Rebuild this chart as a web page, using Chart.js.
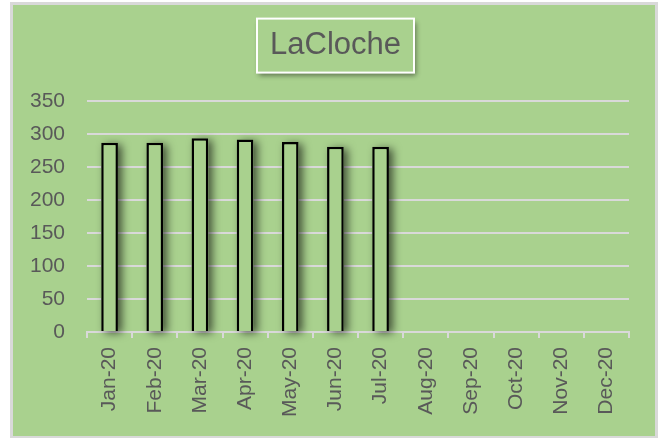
<!DOCTYPE html>
<html>
<head>
<meta charset="utf-8">
<script src="https://cdn.jsdelivr.net/npm/chart.js@4"></script>
<style>
  body { margin: 0; background: #fff; }
  #frame {
    position: absolute; left: 10px; top: 2px; width: 648px; height: 437px;
    box-sizing: border-box; border: 3px solid #d9d9d9; background: #a9d18e;
  }
  #lacloche { position: absolute; left: 0; top: 0; }
</style>
</head>
<body>
<div id="frame"></div>
<canvas id="lacloche" width="662" height="438"></canvas>
<script>
const months = ['Jan-20', 'Feb-20', 'Mar-20', 'Apr-20', 'May-20', 'Jun-20',
  'Jul-20', 'Aug-20', 'Sep-20', 'Oct-20', 'Nov-20', 'Dec-20'];
const values = [287, 287, 294, 292, 288, 281, 281, null, null, null, null, null];
const chartTitle = 'LaCloche';

const green = '#a9d18e';
const lineGray = '#d9d9d9';
const textGray = '#595959';

// title sits a bit right of the canvas centre, like the excel box
const titleShift = {
  id: 'titleShift',
  afterLayout(chart) {
    chart.titleBlock.left += 11;
    chart.titleBlock.right += 11;
  }
};

// box with shadow around the title text
const titleBox = {
  id: 'titleBox',
  beforeDraw(chart) {
    const tb = chart.titleBlock;
    const ctx = chart.ctx;
    const opts = chart.options.plugins.title;
    ctx.save();
    ctx.font = opts.font.size + 'px ' + opts.font.family;
    const w = ctx.measureText(chartTitle).width + 26;
    const cx = (tb.left + tb.right) / 2;
    const cy = tb.top + opts.padding.top + opts.font.size * 1.2 / 2;
    const h = 54;
    ctx.shadowColor = 'rgba(0,0,0,0.45)';
    ctx.shadowBlur = 5;
    ctx.shadowOffsetX = 2;
    ctx.shadowOffsetY = 3;
    ctx.fillStyle = green;
    ctx.fillRect(cx - w / 2, cy - h / 2, w, h);
    ctx.shadowColor = 'transparent';
    ctx.strokeStyle = '#ffffff';
    ctx.lineWidth = 2;
    ctx.strokeRect(cx - w / 2, cy - h / 2, w, h);
    ctx.restore();
  }
};

// bar element clips itself, so cast the shadow from its own geometry first
const barShadow = {
  id: 'barShadow',
  beforeDatasetsDraw(chart) {
    const ctx = chart.ctx;
    const meta = chart.getDatasetMeta(0);
    ctx.save();
    ctx.shadowColor = 'rgba(0,0,0,0.6)';
    ctx.shadowBlur = 8;
    ctx.shadowOffsetX = 4;
    ctx.shadowOffsetY = 2;
    ctx.fillStyle = green;
    meta.data.forEach((bar, i) => {
      if (values[i] == null) return;
      const p = bar.getProps(['x', 'y', 'base', 'width'], true);
      ctx.fillRect(p.x - p.width / 2, p.y, p.width, p.base - p.y);
    });
    ctx.restore();
  }
};

var ctx = document.getElementById('lacloche').getContext('2d');
new Chart(ctx, {
  type: 'bar',
  data: {
    labels: months,
    datasets: [{
      label: chartTitle,
      data: values,
      backgroundColor: green,
      borderColor: '#000000',
      borderWidth: 2.5,
      borderSkipped: 'bottom',
      barPercentage: 0.74,
      categoryPercentage: 0.5
    }]
  },
  options: {
    responsive: false,
    devicePixelRatio: 1,
    animation: false,
    layout: {
      padding: { left: 20, right: 33, top: 0, bottom: 0 }
    },
    plugins: {
      legend: { display: false },
      tooltip: { enabled: false },
      title: {
        display: true,
        text: chartTitle,
        color: textGray,
        font: { family: 'Liberation Sans', size: 31, weight: 'normal' },
        padding: { top: 27, bottom: 37 }
      }
    },
    scales: {
      x: {
        afterFit(scale) { scale.height = 106; },
        border: { display: true, color: lineGray, width: 2 },
        grid: {
          drawOnChartArea: false,
          drawTicks: true,
          tickLength: 6,
          color: lineGray,
          lineWidth: 2
        },
        ticks: {
          autoSkip: false,
          minRotation: 90,
          maxRotation: 90,
          padding: 9,
          color: textGray,
          font: { family: 'Liberation Sans', size: 21 }
        }
      },
      y: {
        min: 0,
        max: 350,
        afterFit(scale) { scale.width = 67; },
        border: { display: false },
        grid: {
          drawTicks: false,
          color: lineGray,
          lineWidth: 2
        },
        ticks: {
          stepSize: 50,
          padding: 22,
          color: textGray,
          font: { family: 'Liberation Sans', size: 21 }
        }
      }
    }
  },
  plugins: [titleShift, titleBox, barShadow]
});
</script>
</body>
</html>
